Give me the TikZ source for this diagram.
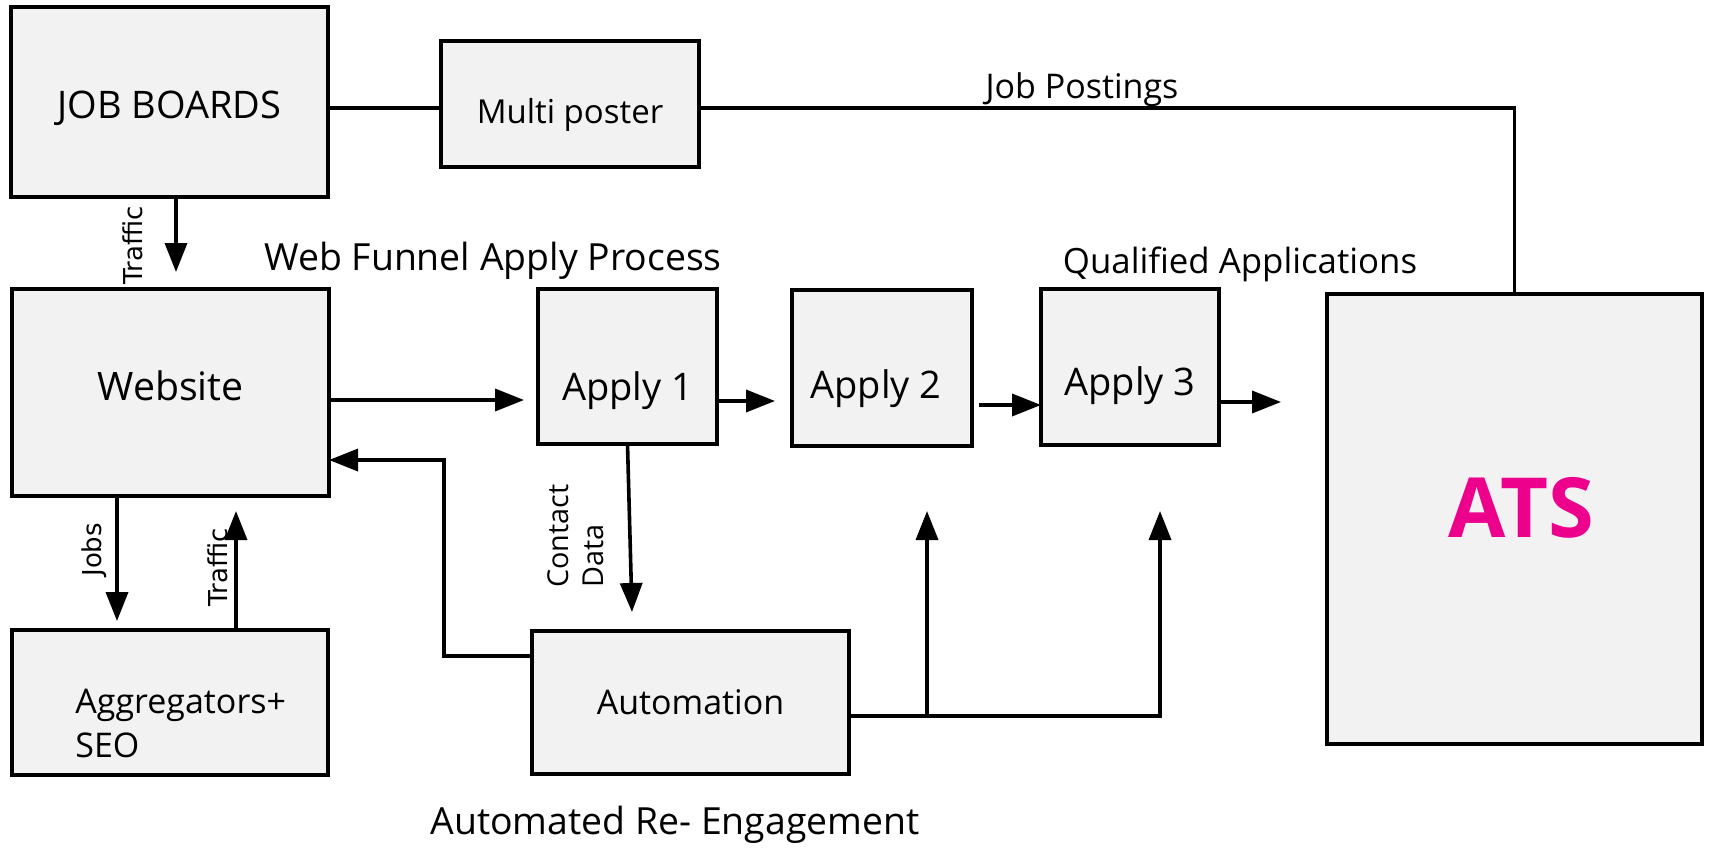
\documentclass[tikz,border=0pt]{standalone}
\usepackage{fontspec}
\setmainfont{Open Sans}
\newfontfamily\dejavu{DejaVu Sans}
\usetikzlibrary{arrows.meta}
\definecolor{boxgray}{HTML}{F2F2F2}
\definecolor{atspink}{HTML}{EC008C}
\begin{document}
\begin{tikzpicture}[x=0.5pt,y=-0.5pt,
  box/.style={draw,fill=boxgray,line width=2pt,inner sep=0pt,outer sep=0pt},
  conn/.style={line width=1.8pt},
  arr/.style={conn,-{Triangle[length=14.5pt,width=11pt]}},
  txt/.style={inner sep=0pt,anchor=base},
  rot/.style={font=\dejavu\fontsize{13}{15}\selectfont,rotate=90,anchor=base west,inner sep=0pt},
  rotb/.style={font=\fontsize{14.4}{16}\selectfont,rotate=90,anchor=base west,inner sep=0pt},
  fm/.style={font=\fontsize{17}{20}\selectfont},
  fl/.style={font=\fontsize{18.7}{22}\selectfont}]
\useasboundingbox[fill=white] (0,0) rectangle (1712,847);

% boxes
\node[box,minimum width=158.5pt,minimum height=95pt,font=\fontsize{19}{22}\selectfont,text height=16pt,text depth=0pt] (jobboards) at (169.5,102) {JOB BOARDS};
\node[box,minimum width=129pt,minimum height=63pt,font=\fontsize{16.5}{19}\selectfont,text height=19pt,text depth=0pt] (multiposter) at (570,104) {Multi poster};
\node[box,minimum width=158.5pt,minimum height=103.5pt,font=\fontsize{19.6}{22}\selectfont,text height=7.5pt,text depth=0pt] (website) at (170.5,392.5) {Website};
\node[box,minimum width=89.5pt,minimum height=77.5pt,font=\fontsize{19}{22}\selectfont,text height=33.5pt,text depth=0pt] (apply1) at (627.5,366.5) {Apply 1};
\node[box,minimum width=90pt,minimum height=78pt,font=\fontsize{19}{22}\selectfont,text height=30pt,text depth=0pt] (apply2) at (882,368) {\hspace*{-6pt}Apply 2};
\node[box,minimum width=89pt,minimum height=78pt,font=\fontsize{19}{22}\selectfont,text height=28pt,text depth=0pt] (apply3) at (1130,367) {Apply 3};
\node[box,minimum width=187.5pt,minimum height=225pt,font=\bfseries\fontsize{41.5}{46}\selectfont,text=atspink,text height=18pt,text depth=0pt] (ats) at (1514.5,519) {\hspace*{7pt}ATS};
\node[box,minimum width=158pt,minimum height=72.5pt] (aggregators) at (170,702.5) {};
\node[box,minimum width=158.5pt,minimum height=71.5pt,fm,text height=11.5pt,text depth=0pt] (automation) at (690.5,702.5) {Automation};

% free texts
\node[txt,fm] (jobpostings) at (1082,98) {Job Postings};
\node[txt,fl] (webfunnel) at (493,270) {Web Funnel Apply Process};
\node[txt,font=\fontsize{17.4}{20}\selectfont] (qualified) at (1240,273) {Qualified Applications};
\node[txt,fl] (reengage) at (675,834) {Automated Re- Engagement};
\node[txt,fm,anchor=base west] (agg1) at (75,713) {Aggregators+};
\node[txt,fm,anchor=base west] (agg2) at (75,757) {SEO};

% rotated labels
\node[rot] (traffic1) at (142,285) {Traffic};
\node[rot] (jobs) at (101,577) {Jobs};
\node[rot] (traffic2) at (227,607) {Traffic};
\node[rotb] (contact) at (568,588) {Contact};
\node[rotb] (data) at (603,588) {Data};

% coordinates for free ends
\coordinate (t1tip) at (176,272);
\coordinate (w2a) at (524,400);
\coordinate (a12) at (775,401);
\coordinate (a23) at (979,405);
\coordinate (a3out) at (1281,402);
\coordinate (ctip) at (632,612);
\coordinate (bend) at (444,656);
\coordinate (back) at (0,460);
\coordinate (jtip) at (117,621);
\coordinate (t2tip) at (236,511);
\coordinate (up1) at (927,511);
\coordinate (up2) at (1160,511);
\coordinate (autoy) at (0,716);
\coordinate (posty) at (0,108);

% connectors
\draw[conn] (jobboards.east |- posty) -- (multiposter.west |- posty);
\draw[conn] (multiposter.east |- posty) -| (ats.north);
\draw[arr] (jobboards.south -| t1tip) -- (t1tip);
\draw[arr] (website.east |- w2a) -- (w2a);
\draw[arr] (apply1.east |- a12) -- (a12);
\draw[arr] (a23) -- (apply3.west |- a23);
\draw[arr] (apply3.east |- a3out) -- (a3out);
\draw[arr] (apply1.south) -- (ctip);
\draw[arr] (automation.west |- bend) -- (bend) |- (website.east |- back);
\draw[arr] (website.south -| jtip) -- (jtip);
\draw[arr] (aggregators.north -| t2tip) -- (t2tip);
\draw[arr] (automation.east |- autoy) -| (up2);
\draw[arr] (up1 |- autoy) -- (up1);
\end{tikzpicture}
\end{document}
